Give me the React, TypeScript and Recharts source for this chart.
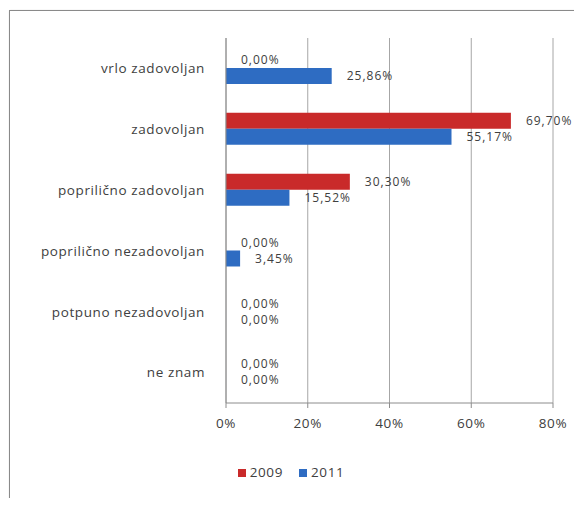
import React from 'react';
import { BarChart, Bar, XAxis, YAxis, CartesianGrid, Legend, LabelList } from 'recharts';

const categories = [
  'vrlo zadovoljan',
  'zadovoljan',
  'poprilično zadovoljan',
  'poprilično nezadovoljan',
  'potpuno nezadovoljan',
  'ne znam',
];
const values2009 = [0, 69.7, 30.3, 0, 0, 0];
const values2011 = [25.86, 55.17, 15.52, 3.45, 0, 0];
const xTicks = [0, 20, 40, 60, 80];

const data = categories.map((name, i) => ({
  name,
  y2009: values2009[i],
  y2011: values2011[i],
}));

const pct = (v: number) => `${Number(v).toFixed(2).replace('.', ',')}%`;
const font = '"Open Sans", sans-serif';
const textStyle = { fill: '#404040', fontSize: 13.5, fontFamily: font, letterSpacing: 0.6 };
const labelStyle = { fill: '#404040', fontSize: 12, fontFamily: font, letterSpacing: 1 };

const App: React.FC = () => (
  <div style={{ position: 'relative', width: 582, height: 506, margin: -8, overflow: 'hidden', background: '#fff', fontFamily: font }}>
    <div style={{ position: 'absolute', left: 2, top: -12, fontSize: 17, color: '#222', fontFamily: 'Arial, "Liberation Sans", sans-serif', whiteSpace: 'nowrap' }}>
      sigurnosti i zaštite na stajalištima
    </div>
    <div style={{ position: 'absolute', left: 9, top: 10, width: 578, height: 492, border: '1px solid #8a8a8a', boxShadow: '1px 1px 2px #999' }}>
      <BarChart
        width={578}
        height={492}
        data={data}
        layout="vertical"
        margin={{ top: 27, right: 35, bottom: 22, left: 0 }}
        barCategoryGap="23%"
        barGap={0}
      >
        <CartesianGrid horizontal={false} stroke="#a6a6a6" />
        <XAxis
          type="number"
          domain={[0, 80]}
          ticks={xTicks}
          tickFormatter={(v: number) => `${v}%`}
          interval={0}
          stroke="#8c8c8c"
          tickSize={5}
          tickMargin={10}
          tick={textStyle}
          height={60}
        />
        <YAxis
          type="category"
          dataKey="name"
          width={216}
          stroke="#8c8c8c"
          tickLine={false}
          tickMargin={15}
          tick={textStyle}
        />
        <Legend
          verticalAlign="bottom"
          iconType="square"
          iconSize={8}
          formatter={(value: string) => <span style={{ color: '#404040', letterSpacing: 0.6, paddingRight: 6 }}>{value}</span>}
          wrapperStyle={{ fontSize: 13.5, left: 0, width: 578, paddingLeft: 0 }}
        />
        <Bar dataKey="y2009" name="2009" fill="#c92a2a" minPointSize={0.01} isAnimationActive={false}>
          <LabelList dataKey="y2009" position="right" offset={15} formatter={(v: number) => pct(v)} {...labelStyle} />
        </Bar>
        <Bar dataKey="y2011" name="2011" fill="#2e6cc2" minPointSize={0.01} isAnimationActive={false}>
          <LabelList dataKey="y2011" position="right" offset={15} formatter={(v: number) => pct(v)} {...labelStyle} />
        </Bar>
      </BarChart>
    </div>
  </div>
);

export default App;
